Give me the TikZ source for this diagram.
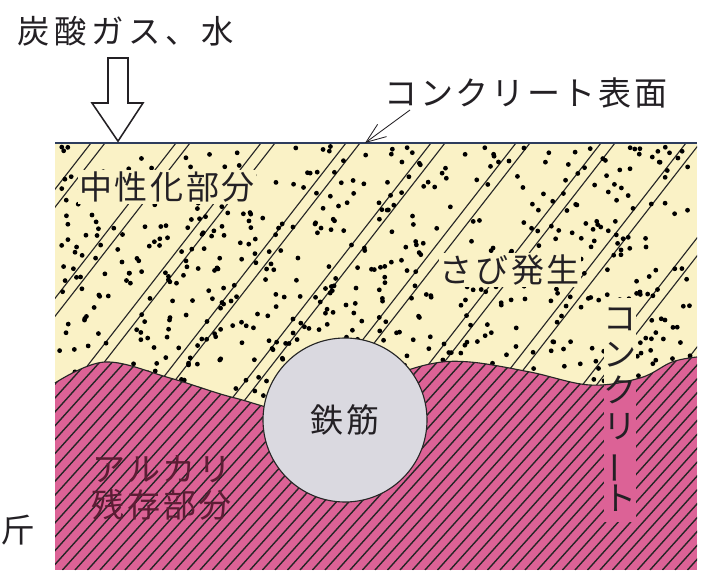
\documentclass[tikz,border=0pt]{standalone}
\usepackage{fontspec}
\usepackage{tikz}
\usetikzlibrary{arrows.meta,calc}
\newfontfamily\jpfont{Noto Sans CJK JP}[LetterSpace=8.0]
\newfontfamily\jpwide{Noto Sans CJK JP}[LetterSpace=14.0]
\definecolor{neutcol}{RGB}{250,242,198}
\definecolor{alkcol}{RGB}{220,98,150}
\definecolor{barcol}{RGB}{218,217,224}
\definecolor{inkcol}{RGB}{35,32,36}
\definecolor{alkink}{RGB}{92,28,52}
\definecolor{surfcol}{RGB}{45,60,92}
\tikzset{
  lbl/.style={font=\jpfont\fontsize{23.5}{25.6}\selectfont, text=inkcol, inner sep=1pt},
  pairline/.style={black!85, line width=0.8pt},
  hatchline/.style={black!85, line width=1pt},
  frontline/.style={black!85, line width=0.8pt},
  rebar/.style={circle, draw=black!85, line width=0.8pt, fill=barcol, minimum size=4.1cm, inner sep=0pt}
}

\begin{document}
\begin{tikzpicture}
\useasboundingbox (0,0) rectangle (17.6,14.25);
% concrete block, neutralised part first
\fill[neutcol] (1.375,0) rectangle (17.425,10.675);
\begin{scope}
  \clip (1.375,10.675) -- plot[smooth,tension=0.6] coordinates {(1.375,4.675) (2.625,5.2) (4.25,4.8) (5.875,4.3) (7.5,4.0) (9.5,4.75) (10.75,5.15) (11.75,5.2) (13.25,4.95) (14.75,4.625) (16.0,4.8) (16.8,5.2) (17.425,5.325)} -- (17.425,10.675) -- cycle;
  % double rust lines
  \foreach \x in {0.15,2.275,...,21.5}{
    \draw[pairline] (\x,10.675) -- ++(-5.2,-6.675);
    \draw[pairline] (\x+0.35,10.675) -- ++(-5.2,-6.675);
  }
  % dots
  \pgfmathsetseed{11}
  \foreach \i in {1,...,640}{
    \fill ({1.45+15.9*rnd},{4.3+6.3*rnd}) circle (0.06);
  }
  \fill[neutcol] (15.1,1.2) rectangle (15.9,6.8);
\end{scope}
% alkaline part
\begin{scope}
  \clip (1.375,0) -- plot[smooth,tension=0.6] coordinates {(1.375,4.675) (2.625,5.2) (4.25,4.8) (5.875,4.3) (7.5,4.0) (9.5,4.75) (10.75,5.15) (11.75,5.2) (13.25,4.95) (14.75,4.625) (16.0,4.8) (16.8,5.2) (17.425,5.325)} -- (17.425,0) -- cycle;
  \fill[alkcol] (1.375,0) rectangle (17.425,6);
  \foreach \x in {-5,-4.6875,...,17.5}{
    \draw[hatchline] (\x,0) -- ++(5.0,5.55);
  }
  \fill[alkcol] (15.1,1.2) rectangle (15.9,6.8);
\end{scope}
\draw[frontline] plot[smooth,tension=0.6] coordinates {(1.375,4.675) (2.625,5.2) (4.25,4.8) (5.875,4.3) (7.5,4.0) (9.5,4.75) (10.75,5.15) (11.75,5.2) (13.25,4.95) (14.75,4.625) (16.0,4.8) (16.8,5.2) (17.425,5.325)};
% surface
\draw[surfcol, line width=1pt] (1.375,10.675) -- (17.425,10.675);
\coordinate (surfpt) at (9.125,10.675);
\coordinate (inflow) at (2.95,10.72);

% rebar
\node[rebar, lbl] (bar) at (8.625,3.75) {鉄筋};

% labels
\node[lbl, font=\jpwide\fontsize{23}{25}\selectfont, anchor=west] (gas) at (0.4,13.475) {炭酸ガス、水};
\node[lbl] (surflbl) at (13.15,11.925) {コンクリート表面};
\node[lbl, fill=neutcol] (neut) at (4.175,9.575) {中性化部分};
\node[lbl, fill=neutcol] (rust) at (12.75,7.5) {さび発生};
\node[lbl, align=center] (conc) at (15.5,4.0) {コ\\ン\\ク\\リ\\\rotatebox[origin=c]{90}{ー}\\ト};
\node[lbl, text=alkink, align=center] (alk) at (4.05,2.05) {アルカリ\\残存部分};
\node[lbl, anchor=west] (cut) at (0,1.0) {斤};

% inflow arrow
\draw[inkcol, line width=1.1pt, fill=white, line join=miter]
  (2.7,12.8) -- (3.2,12.8) -- (3.2,11.675) -- (3.575,11.675) -- (inflow)
  -- (2.3,11.675) -- (2.7,11.675) -- cycle;
% leader to surface
\coordinate (leadstart) at (10.25,11.5);
\draw[inkcol, line width=0.6pt, -{Straight Barb[length=5mm,width=3.8mm]}] (leadstart) -- (surfpt);
\end{tikzpicture}
\end{document}
